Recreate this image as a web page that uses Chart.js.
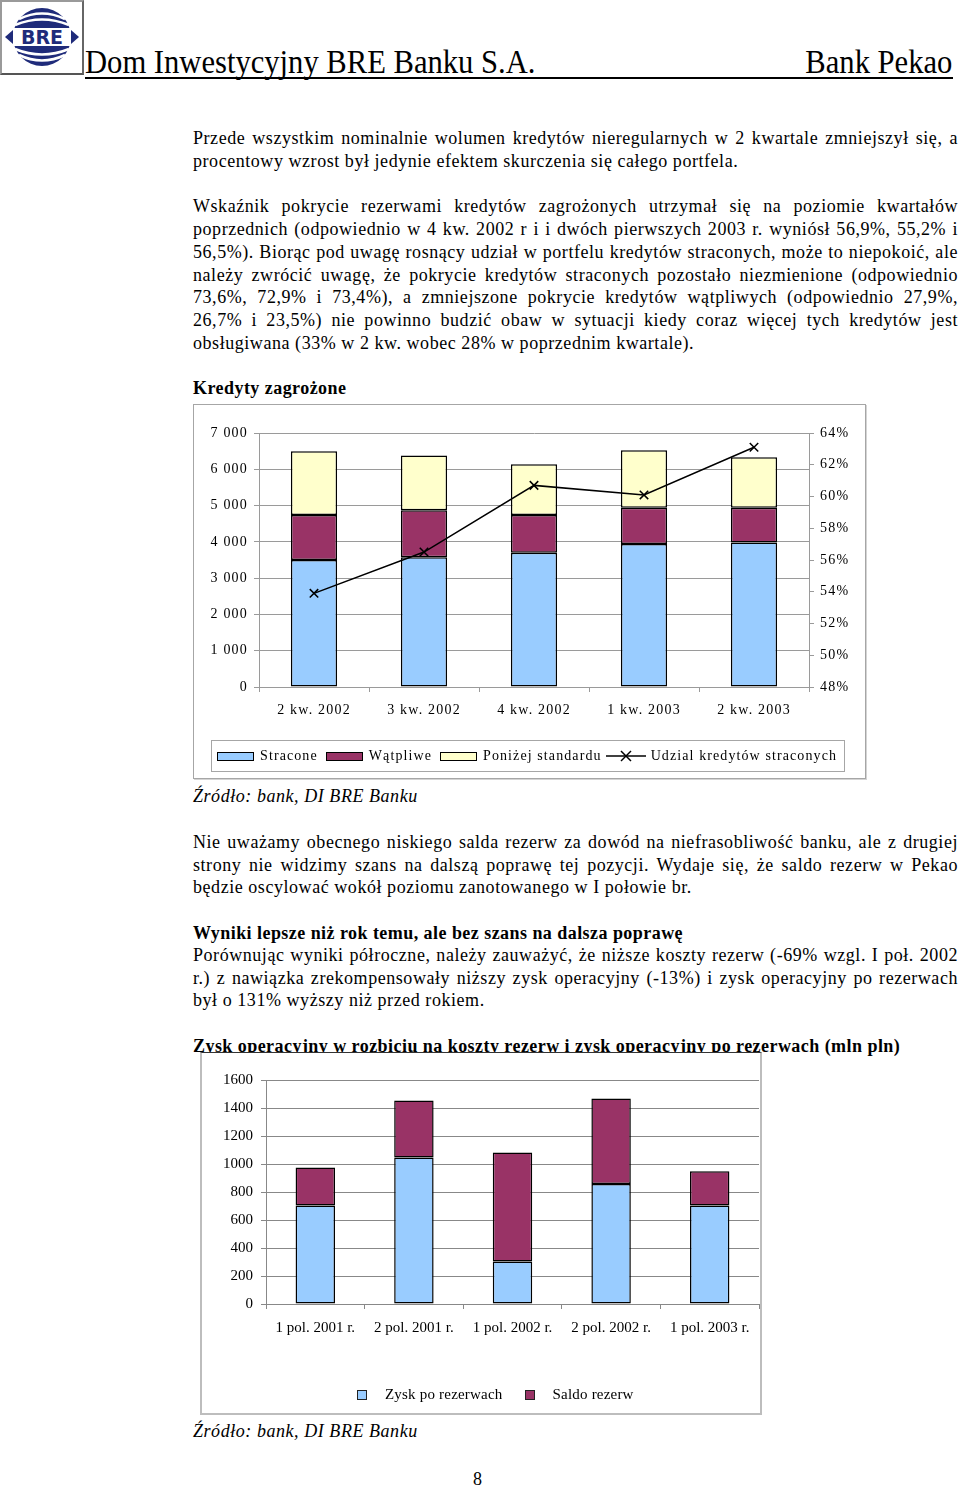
<!DOCTYPE html>
<html>
<head>
<meta charset="utf-8">
<script src="https://cdn.jsdelivr.net/npm/chart.js@4/dist/chart.umd.min.js"></script>
<style>
  body { margin: 0; width: 960px; height: 1487px; position: relative; background: #fff; overflow: hidden;
         font-family: "Liberation Serif", "Times New Roman", serif; color: #000; }
  .t { position: absolute; left: 193px; width: 765px; font-size: 18px; letter-spacing: 0.55px; line-height: 22px; white-space: nowrap; }
  .b { font-weight: bold; letter-spacing: 0.45px; }
  .i { font-style: italic; }
  .box { position: absolute; box-sizing: border-box; background: #fff; }
  .leg { position: absolute; display: flex; align-items: center; font-size: 14px; letter-spacing: 1.1px; white-space: nowrap; }
  .sw { display: inline-block; box-sizing: border-box; border: 1px solid #000; }
</style>
</head>
<body>

<!-- naglowek -->
<div class="box" style="left:0;top:0;width:84px;height:75px;border:2px solid #9a9a9a;border-bottom-color:#555;border-right-color:#666;">
  <svg width="80" height="71" viewBox="0 0 80 71">
    <circle cx="40" cy="35" r="29" fill="#1f2b7a"/>
    <path d="M17 17 Q40 6 63 17" stroke="#fff" stroke-width="2.5" fill="none"/>
    <path d="M13 23 Q40 12 67 23" stroke="#fff" stroke-width="2.5" fill="none"/>
    <path d="M17 53 Q40 64 63 53" stroke="#fff" stroke-width="2.5" fill="none"/>
    <path d="M13 47 Q40 58 67 47" stroke="#fff" stroke-width="2.5" fill="none"/>
    <rect x="10" y="26" width="60" height="18" fill="#fff"/>
    <polygon points="3,35 11,28 11,42" fill="#1f2b7a"/>
    <polygon points="77,35 69,28 69,42" fill="#1f2b7a"/>
    <text x="40" y="42" text-anchor="middle" font-family="DejaVu Sans" font-weight="bold" font-size="19" fill="#1f2b7a">BRE</text>
  </svg>
</div>
<div style="position:absolute;left:85px;top:44px;font-size:34px;line-height:36px;white-space:nowrap;transform:scaleX(0.9);transform-origin:left top;">Dom Inwestycyjny BRE Banku S.A.</div>
<div style="position:absolute;right:8px;top:44px;font-size:34px;line-height:36px;white-space:nowrap;transform:scaleX(0.9);transform-origin:right top;">Bank Pekao</div>
<div style="position:absolute;left:85px;top:77px;width:868px;height:2px;background:#000;"></div>

<!-- tekst -->
<div class="t j" style="top:127px"><span>Przede wszystkim nominalnie wolumen kredytów nieregularnych w 2 kwartale zmniejszył się, a</span></div>
<div class="t" style="top:150px"><span>procentowy wzrost był jedynie efektem skurczenia się całego portfela.</span></div>

<div class="t j" style="top:195px"><span>Wskaźnik pokrycie rezerwami kredytów zagrożonych utrzymał się na poziomie kwartałów</span></div>
<div class="t j" style="top:218px"><span>poprzednich (odpowiednio w 4 kw. 2002 r i i dwóch pierwszych 2003 r. wyniósł 56,9%, 55,2% i</span></div>
<div class="t j" style="top:241px"><span>56,5%). Biorąc pod uwagę rosnący udział w portfelu kredytów straconych, może to niepokoić, ale</span></div>
<div class="t j" style="top:264px"><span>należy zwrócić uwagę, że pokrycie kredytów straconych pozostało niezmienione (odpowiednio</span></div>
<div class="t j" style="top:286px"><span>73,6%, 72,9% i 73,4%), a zmniejszone pokrycie kredytów wątpliwych (odpowiednio 27,9%,</span></div>
<div class="t j" style="top:309px"><span>26,7% i 23,5%) nie powinno budzić obaw w sytuacji kiedy coraz więcej tych kredytów jest</span></div>
<div class="t" style="top:332px"><span>obsługiwana (33% w 2 kw. wobec 28% w poprzednim kwartale).</span></div>

<div class="t b" style="top:377px"><span>Kredyty zagrożone</span></div>

<!-- wykres 1 -->
<div class="box" style="left:193px;top:404px;width:673px;height:375px;border:1px solid #a6a6a6;box-shadow:1px 1px 0 #d4d4d4;">
  <canvas id="chartKredyty" style="position:absolute;left:0;top:0;"></canvas>
  <div id="legendaKredyty" class="leg" style="left:17px;top:335px;width:634px;height:32px;box-sizing:border-box;border:1px solid #a6a6a6;padding-left:5px;"></div>
</div>

<div class="t i" style="top:785px"><span>Źródło: bank, DI BRE Banku</span></div>

<div class="t j" style="top:831px"><span>Nie uważamy obecnego niskiego salda rezerw za dowód na niefrasobliwość banku, ale z drugiej</span></div>
<div class="t j" style="top:854px"><span>strony nie widzimy szans na dalszą poprawę tej pozycji. Wydaje się, że saldo rezerw w Pekao</span></div>
<div class="t" style="top:876px"><span>będzie oscylować wokół poziomu zanotowanego w I połowie br.</span></div>

<div class="t b" style="top:922px"><span>Wyniki lepsze niż rok temu, ale bez szans na dalsza poprawę</span></div>
<div class="t j" style="top:944px"><span>Porównując wyniki półroczne, należy zauważyć, że niższe koszty rezerw (-69% wzgl. I poł. 2002</span></div>
<div class="t j" style="top:967px"><span>r.) z nawiązka zrekompensowały niższy zysk operacyjny (-13%) i zysk operacyjny po rezerwach</span></div>
<div class="t" style="top:989px"><span>był o 131% wyższy niż przed rokiem.</span></div>

<div class="t b" style="top:1035px"><span>Zysk operacyjny w rozbiciu na koszty rezerw i zysk operacyjny po rezerwach (mln pln)</span></div>

<!-- wykres 2 -->
<div class="box" style="left:200px;top:1052px;width:562px;height:363px;border:2px solid #bdbdbd;border-top:1px solid #333;z-index:2;">
  <canvas id="chartZysk" style="position:absolute;left:0;top:0;"></canvas>
  <div id="legendaZysk" class="leg" style="left:155px;top:333px;font-size:15px;letter-spacing:0.2px;"></div>
</div>

<div class="t i" style="top:1420px"><span>Źródło: bank, DI BRE Banku</span></div>
<div style="position:absolute;left:473px;top:1468px;font-size:18px;line-height:22px;">8</div>

<script>
// --- dane: kredyty zagrozone ---
const kwartaly = ['2 kw. 2002', '3 kw. 2002', '4 kw. 2002', '1 kw. 2003', '2 kw. 2003'];
const stracone = [3500, 3575, 3700, 3940, 3980];
const watpliwe = [1240, 1295, 1040, 1000, 960];
const ponizejStandardu = [1760, 1510, 1400, 1585, 1395];
const udzialStraconych = [53.9, 56.5, 60.7, 60.1, 63.1];
const nazwySerii1 = ['Stracone', 'Wątpliwe', 'Poniżej standardu', 'Udzial kredytów straconych'];

// --- dane: zysk operacyjny ---
const polrocza = ['1 pol. 2001 r.', '2 pol. 2001 r.', '1 pol. 2002 r.', '2 pol. 2002 r.', '1 pol. 2003 r.'];
const zyskPoRezerwach = [704, 1046, 304, 858, 704];
const saldoRezerw = [271, 407, 778, 609, 245];
const nazwySerii2 = ['Zysk po rezerwach', 'Saldo rezerw'];

const kolory1 = ['#99ccff', '#993366', '#ffffcc'];
const kolory2 = ['#99ccff', '#993366'];

// wyjustowanie linii tekstu (word-spacing)
document.querySelectorAll('.j').forEach(el => {
  const w = el.firstElementChild.getBoundingClientRect().width;
  const n = (el.textContent.trim().match(/ /g) || []).length;
  if (n) el.style.wordSpacing = ((765 - w) / n) + 'px';
});

function tysiace(v) {
  return String(v).replace(/\B(?=(\d{3})+(?!\d))/g, ' ');
}

// odstep liter w wykresie 1
const odstepLiter = {
  id: 'odstepLiter',
  beforeUpdate(chart) { chart.ctx.letterSpacing = '1.2px'; },
  beforeDraw(chart) { chart.ctx.letterSpacing = '1.2px'; }
};

const siatka = '#9a9a9a';

// wykres 1
const c1 = document.getElementById('chartKredyty');
c1.width = 671; c1.height = 373;
new Chart(c1.getContext('2d'), {
  data: {
    labels: kwartaly,
    datasets: [
      { type: 'line', label: nazwySerii1[3], data: udzialStraconych, yAxisID: 'y1', order: 0,
        borderColor: '#000', borderWidth: 1.5, pointStyle: 'crossRot', pointRadius: 6,
        pointBorderColor: '#000', pointBorderWidth: 1.5, tension: 0 },
      { type: 'bar', label: nazwySerii1[0], data: stracone, backgroundColor: kolory1[0], order: 1 },
      { type: 'bar', label: nazwySerii1[1], data: watpliwe, backgroundColor: kolory1[1], order: 1 },
      { type: 'bar', label: nazwySerii1[2], data: ponizejStandardu, backgroundColor: kolory1[2], order: 1 }
    ]
  },
  options: {
    responsive: false,
    animation: false,
    layout: { padding: { top: 28, bottom: 51, left: 0, right: 0 } },
    datasets: { bar: { borderColor: '#000', borderWidth: 1.5, borderSkipped: false,
                       barPercentage: 0.42, categoryPercentage: 1 } },
    plugins: { legend: { display: false }, tooltip: { enabled: false } },
    scales: {
      x: {
        stacked: true,
        afterFit: s => { s.height = 40; },
        grid: { offset: true, drawOnChartArea: false, tickLength: 5, color: siatka },
        border: { color: siatka },
        ticks: { color: '#000', padding: 10, font: { family: 'Liberation Serif', size: 14 } }
      },
      y: {
        stacked: true, position: 'left', min: 0, max: 7000,
        afterFit: s => { s.width = 65; },
        grid: { color: siatka, tickLength: 5 },
        border: { color: siatka },
        ticks: { stepSize: 1000, color: '#000', padding: 6, callback: v => tysiace(v),
                 font: { family: 'Liberation Serif', size: 14 } }
      },
      y1: {
        position: 'right', min: 48, max: 64,
        afterFit: s => { s.width = 56; },
        grid: { drawOnChartArea: false, color: siatka, tickLength: 5 },
        border: { color: siatka },
        ticks: { stepSize: 2, color: '#000', padding: 6, callback: v => v + '%',
                 font: { family: 'Liberation Serif', size: 14 } }
      }
    }
  },
  plugins: [odstepLiter]
});

// legenda 1 (html)
const leg1 = document.getElementById('legendaKredyty');
nazwySerii1.forEach((nazwa, i) => {
  const item = document.createElement('span');
  item.style.display = 'flex';
  item.style.alignItems = 'center';
  item.style.marginRight = i === 2 ? '4px' : '8px';
  let sw;
  if (i < 3) {
    sw = `<span class="sw" style="width:37px;height:9px;background:${kolory1[i]};margin-right:6px;"></span>`;
  } else {
    sw = '<svg width="40" height="12" style="margin-right:5px"><line x1="0" y1="6" x2="40" y2="6" stroke="#000" stroke-width="1.5"/>' +
         '<line x1="15" y1="1" x2="25" y2="11" stroke="#000" stroke-width="1.5"/><line x1="25" y1="1" x2="15" y2="11" stroke="#000" stroke-width="1.5"/></svg>';
  }
  item.innerHTML = sw + '<span>' + nazwa + '</span>';
  leg1.appendChild(item);
});

// wykres 2
const c2 = document.getElementById('chartZysk');
c2.width = 558; c2.height = 359;
new Chart(c2.getContext('2d'), {
  type: 'bar',
  data: {
    labels: polrocza,
    datasets: [
      { label: nazwySerii2[0], data: zyskPoRezerwach, backgroundColor: kolory2[0] },
      { label: nazwySerii2[1], data: saldoRezerw, backgroundColor: kolory2[1] }
    ]
  },
  options: {
    responsive: false,
    animation: false,
    layout: { padding: { top: 27, bottom: 68, left: 0, right: 1 } },
    datasets: { bar: { borderColor: '#000', borderWidth: 1.5, borderSkipped: false,
                       barPercentage: 0.4, categoryPercentage: 1 } },
    plugins: { legend: { display: false }, tooltip: { enabled: false } },
    scales: {
      x: {
        stacked: true,
        afterFit: s => { s.height = 40; },
        grid: { offset: true, drawOnChartArea: false, tickLength: 5, color: '#888' },
        border: { color: '#888' },
        ticks: { color: '#000', padding: 10, font: { family: 'Liberation Serif', size: 15 } }
      },
      y: {
        stacked: true, min: 0, max: 1600,
        afterFit: s => { s.width = 64; },
        grid: { color: '#888', tickLength: 5 },
        border: { color: '#888' },
        ticks: { stepSize: 200, color: '#000', padding: 8, callback: v => String(v),
                 font: { family: 'Liberation Serif', size: 15 } }
      }
    }
  }
});

// legenda 2 (html)
const leg2 = document.getElementById('legendaZysk');
nazwySerii2.forEach((nazwa, i) => {
  const item = document.createElement('span');
  item.style.display = 'flex';
  item.style.alignItems = 'center';
  item.style.marginRight = '22px';
  item.innerHTML = `<span class="sw" style="width:10px;height:10px;background:${kolory2[i]};border-color:#222;margin-right:18px;"></span><span>${nazwa}</span>`;
  leg2.appendChild(item);
});
</script>
</body>
</html>
